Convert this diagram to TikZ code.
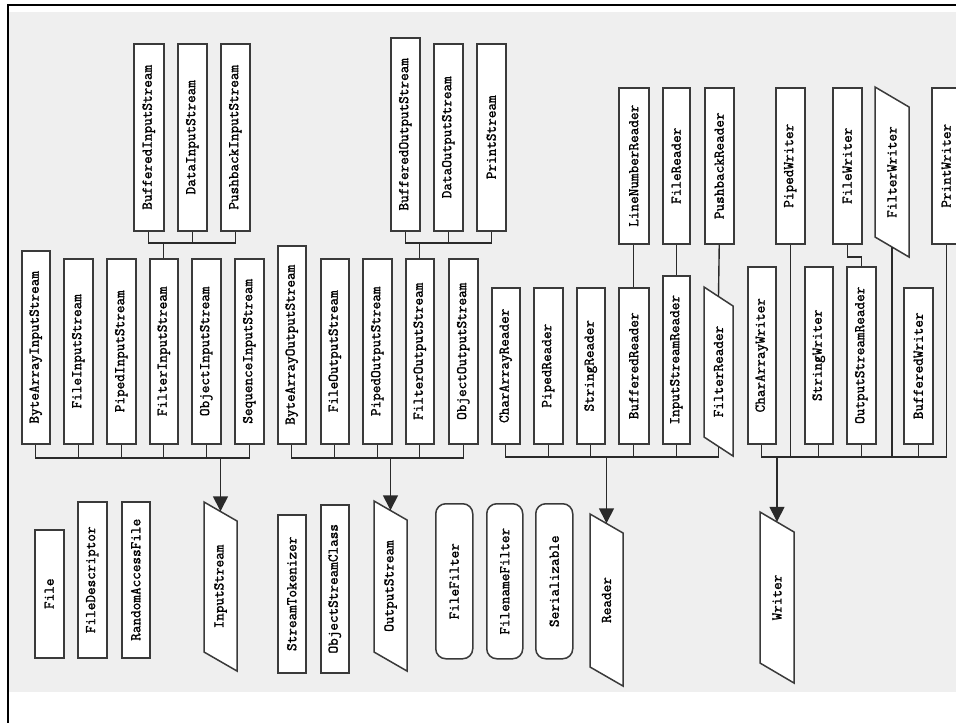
\documentclass[tikz,border=0pt]{standalone}
\usepackage{fontspec}
\usepackage{graphicx}
\newfontfamily\jmono[FakeBold=1.6]{Latin Modern Mono}
\usetikzlibrary{arrows.meta}
\definecolor{bggray}{HTML}{EFEFEF}
\definecolor{edgecol}{HTML}{3A3A3A}
\definecolor{conncol}{HTML}{2A2A2A}
\tikzset{
  lbl/.style={inner sep=0pt, font=\jmono\fontsize{14.8}{15}\selectfont, text=black},
  clsbox/.style={lbl, draw=edgecol, line width=1.5pt, fill=white, anchor=north west},
  ifbox/.style={clsbox, rounded corners=10pt},
  paraline/.style={draw=edgecol, line width=1.5pt, fill=white},
  conn/.style={draw=conncol, line width=1.4pt},
  inh/.style={conn, -{Triangle[length=15pt,width=15pt]}},
}
% \jbox{name}{x1}{y1}{x2}{y2}{text}
\newcommand\jbox[6]{\node[clsbox, minimum width={(#4-#2)*1pt}, minimum height={(#5-#3)*1pt}] (#1) at (#2,#3) {\rotatebox{90}{#6}};}
\newcommand\jround[6]{\node[ifbox, minimum width={(#4-#2)*1pt}, minimum height={(#5-#3)*1pt}] (#1) at (#2,#3) {\rotatebox{90}{#6}};}
% \jpara{name}{xl}{yTL}{xr}{yBL}{slant}{text}
\newcommand\jpara[7]{%
  \draw[paraline] (#2,#3) -- (#4,{#3+#6}) -- (#4,{#5+#6}) -- (#2,#5) -- cycle;
  \node[lbl, minimum width={(#4-#2)*1pt}, minimum height={(#5-#3)*1pt}] (#1) at ({(#2+#4)/2},{(#3+#5)/2+#6/2}) {\rotatebox{90}{#7}};}
\begin{document}
\begin{tikzpicture}[x=1pt,y=-1pt]
\useasboundingbox (0,0) rectangle (956,723);
\fill[bggray] (9,12) rectangle (956,692);
\draw[line width=2pt, black] (7.8,723) -- (7.8,5) -- (956,5);

% ---------- InputStream family
\jbox{BufferedInputStream}{133}{43}{163}{230}{BufferedInputStream}
\jbox{DataInputStream}{177}{43}{206}{230}{DataInputStream}
\jbox{PushbackInputStream}{220}{43}{249}{230}{PushbackInputStream}
\jbox{ByteArrayInputStream}{21}{250}{49}{443}{ByteArrayInputStream}
\jbox{FileInputStream}{63}{258}{92}{443}{FileInputStream}
\jbox{PipedInputStream}{106}{258}{135}{443}{PipedInputStream}
\jbox{FilterInputStream}{149}{258}{177}{443}{FilterInputStream}
\jbox{ObjectInputStream}{191}{258}{220}{443}{ObjectInputStream}
\jbox{SequenceInputStream}{234}{258}{263}{443}{SequenceInputStream}

% ---------- OutputStream family
\jbox{BufferedOutputStream}{390}{37}{419}{230}{BufferedOutputStream}
\jbox{DataOutputStream}{433}{43}{462}{230}{DataOutputStream}
\jbox{PrintStream}{476}{43}{505}{230}{PrintStream}
\jbox{ByteArrayOutputStream}{277}{245}{305}{443}{ByteArrayOutputStream}
\jbox{FileOutputStream}{320}{258}{348}{443}{FileOutputStream}
\jbox{PipedOutputStream}{362}{258}{391}{443}{PipedOutputStream}
\jbox{FilterOutputStream}{405}{258}{433}{443}{FilterOutputStream}
\jbox{ObjectOutputStream}{448}{258}{477}{443}{ObjectOutputStream}

% ---------- Reader family
\jbox{LineNumberReader}{618}{87}{648}{243}{LineNumberReader}
\jbox{FileReader}{662}{87}{689}{243}{FileReader}
\jbox{PushbackReader}{704}{87}{733}{243}{PushbackReader}
\jbox{CharArrayReader}{491}{287}{519}{443}{CharArrayReader}
\jbox{PipedReader}{533}{287}{562}{443}{PipedReader}
\jbox{StringReader}{576}{287}{604}{443}{StringReader}
\jbox{BufferedReader}{618}{287}{648}{443}{BufferedReader}
\jbox{InputStreamReader}{662}{275}{689}{443}{InputStreamReader}
\jpara{FilterReader}{704}{287}{733}{437}{19}{FilterReader}

% ---------- Writer family
\jbox{PipedWriter}{775}{87}{804}{243}{PipedWriter}
\jbox{FileWriter}{832}{87}{861}{243}{FileWriter}
\jpara{FilterWriter}{875}{87}{909}{237}{20}{FilterWriter}
\jbox{PrintWriter}{931}{87}{960}{243}{PrintWriter}
\jbox{CharArrayWriter}{747}{266}{775}{443}{CharArrayWriter}
\jbox{StringWriter}{804}{266}{832}{443}{StringWriter}
\jbox{OutputStreamReader}{846}{266}{875}{443}{OutputStreamReader}
\jbox{BufferedWriter}{903}{287}{932}{443}{BufferedWriter}

% ---------- bottom row
\jbox{File}{34}{529}{63}{657}{File}
\jbox{FileDescriptor}{77}{501}{106}{657}{FileDescriptor}
\jbox{RandomAccessFile}{121}{501}{149}{657}{RandomAccessFile}
\jpara{InputStream}{204}{502}{237}{652}{19}{InputStream}
\jbox{StreamTokenizer}{277}{514}{305}{672}{StreamTokenizer}
\jbox{ObjectStreamClass}{320}{504}{348}{672}{ObjectStreamClass}
\jpara{OutputStream}{374}{501}{407}{652}{19}{OutputStream}
\jround{FileFilter}{435}{503}{472}{658}{FileFilter}
\jround{FilenameFilter}{486}{503}{522}{658}{FilenameFilter}
\jround{Serializable}{535}{503}{572}{658}{Serializable}
\jpara{Reader}{590}{514}{623}{667}{19}{Reader}
\jpara{Writer}{760}{512}{794}{663}{20}{Writer}

% ---------- bus coordinates
\coordinate (busTop) at (0,243);
\coordinate (busBot) at (0,458);
\coordinate (busRW) at (0,457);
\coordinate (fwk) at (0,257);

% InputStream connectors
\draw[conn] (BufferedInputStream.south) |- (PushbackInputStream.south |- busTop) -- (PushbackInputStream.south);
\draw[conn] (DataInputStream.south) -- (DataInputStream.south |- busTop);
\draw[conn] (FilterInputStream.north) -- (FilterInputStream.north |- busTop);
\draw[conn] (ByteArrayInputStream.south) |- (SequenceInputStream.south |- busBot) -- (SequenceInputStream.south);
\foreach \n in {FileInputStream,PipedInputStream,FilterInputStream,ObjectInputStream}
  \draw[conn] (\n.south) -- (\n.south |- busBot);
\draw[inh] (InputStream.north |- busBot) -- (InputStream.north);

% OutputStream connectors
\draw[conn] (BufferedOutputStream.south) |- (PrintStream.south |- busTop) -- (PrintStream.south);
\draw[conn] (DataOutputStream.south) -- (DataOutputStream.south |- busTop);
\draw[conn] (FilterOutputStream.north) -- (FilterOutputStream.north |- busTop);
\draw[conn] (ByteArrayOutputStream.south) |- (ObjectOutputStream.south |- busBot) -- (ObjectOutputStream.south);
\foreach \n in {FileOutputStream,PipedOutputStream,FilterOutputStream}
  \draw[conn] (\n.south) -- (\n.south |- busBot);
\draw[inh] (OutputStream.north |- busBot) -- (OutputStream.north);

% Reader connectors
\draw[conn] (LineNumberReader.south) -- (BufferedReader.north);
\draw[conn] (FileReader.south) -- (InputStreamReader.north);
\draw[conn] (PushbackReader.south) -- (FilterReader.north);
\draw[conn] (CharArrayReader.south) |- (FilterReader.south |- busRW) -- (FilterReader.south);
\foreach \n in {PipedReader,StringReader,BufferedReader,InputStreamReader}
  \draw[conn] (\n.south) -- (\n.south |- busRW);
\draw[inh] (Reader.north |- busRW) -- (Reader.north);

% Writer connectors
\draw[conn] (CharArrayWriter.south) |- (PrintWriter.south |- busRW) -- (PrintWriter.south);
\foreach \n in {PipedWriter,FilterWriter,StringWriter,OutputStreamReader,BufferedWriter}
  \draw[conn] (\n.south) -- (\n.south |- busRW);
\draw[conn] (FileWriter.south) -- (FileWriter.south |- fwk) -| (OutputStreamReader.north);
\draw[inh] (Writer.north |- busRW) -- (Writer.north);
\end{tikzpicture}
\end{document}
